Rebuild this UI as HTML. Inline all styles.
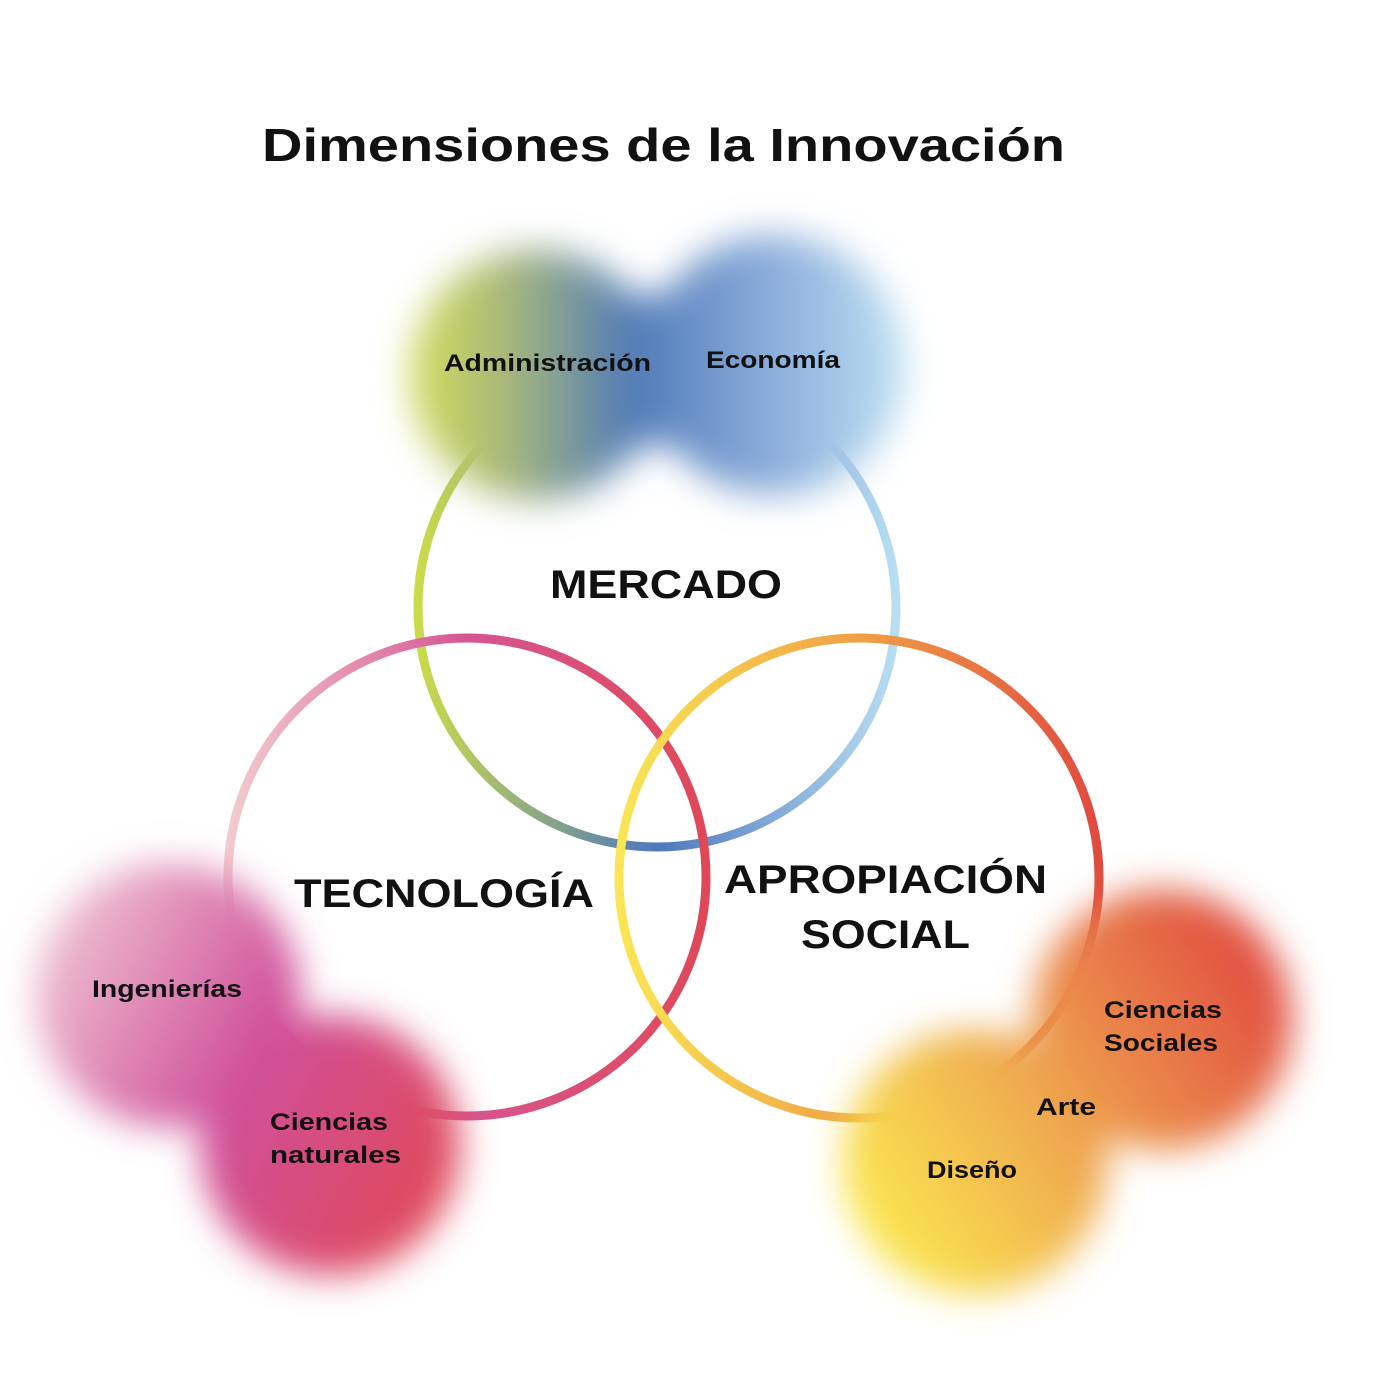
<!DOCTYPE html>
<html><head><meta charset="utf-8"><style>
html,body{margin:0;padding:0;background:#fff;}
svg{display:block;}
text{font-family:"Liberation Sans",sans-serif;font-weight:bold;fill:#111;}
</style></head><body>
<svg width="1390" height="1378" viewBox="0 0 1390 1378" xmlns="http://www.w3.org/2000/svg">
<defs>
<filter id="blur" x="-50%" y="-50%" width="200%" height="200%"><feGaussianBlur stdDeviation="18"/></filter>
<linearGradient id="gTop" gradientUnits="userSpaceOnUse" x1="405" y1="0" x2="910" y2="0">
<stop offset="0" stop-color="#d4df58"/><stop offset="0.2" stop-color="#a8b87a"/><stop offset="0.45" stop-color="#4f7ab8"/><stop offset="0.7" stop-color="#86a8d8"/><stop offset="1" stop-color="#c0e2f4"/></linearGradient>
<linearGradient id="gBL" gradientUnits="userSpaceOnUse" x1="40" y1="950" x2="460" y2="1180">
<stop offset="0" stop-color="#eec0d0"/><stop offset="0.5" stop-color="#d0509a"/><stop offset="1" stop-color="#e04a58"/></linearGradient>
<linearGradient id="gBR" gradientUnits="userSpaceOnUse" x1="850" y1="1220" x2="1270" y2="950">
<stop offset="0" stop-color="#fbea50"/><stop offset="0.4" stop-color="#f0b050"/><stop offset="0.7" stop-color="#e87c48"/><stop offset="1" stop-color="#e04a40"/></linearGradient>
<linearGradient id="cM" x1="0" y1="0" x2="1" y2="0">
<stop offset="0" stop-color="#cbdb4a"/><stop offset="0.5" stop-color="#4f78bd"/><stop offset="1" stop-color="#b8def2"/></linearGradient>
<linearGradient id="cT" x1="0" y1="0" x2="1" y2="0">
<stop offset="0" stop-color="#f2ccd0"/><stop offset="0.5" stop-color="#d65592"/><stop offset="1" stop-color="#e04858"/></linearGradient>
<linearGradient id="cA" x1="0" y1="0" x2="1" y2="0">
<stop offset="0" stop-color="#f9e654"/><stop offset="0.5" stop-color="#efa045"/><stop offset="1" stop-color="#e04a40"/></linearGradient>
</defs>
<circle cx="657" cy="608" r="239" fill="none" stroke="url(#cM)" stroke-width="9"/>
<circle cx="467" cy="877" r="239" fill="none" stroke="url(#cT)" stroke-width="9"/>
<circle cx="859" cy="878" r="240" fill="none" stroke="url(#cA)" stroke-width="9"/>
<g filter="url(#blur)" fill="url(#gTop)">
<circle cx="535" cy="375" r="125"/><circle cx="775" cy="365" r="130"/><rect x="560" y="295" width="220" height="150"/>
</g>
<g filter="url(#blur)" fill="url(#gBL)">
<circle cx="168" cy="995" r="132"/><circle cx="330" cy="1145" r="130"/>
</g>
<g filter="url(#blur)" fill="url(#gBR)">
<circle cx="1162" cy="1020" r="130"/><circle cx="975" cy="1162" r="132"/>
</g>
<text x="262" y="161" font-size="46" textLength="803" lengthAdjust="spacingAndGlyphs">Dimensiones de la Innovación</text>
<text x="550" y="598" font-size="40" textLength="232" lengthAdjust="spacingAndGlyphs">MERCADO</text>
<text x="294" y="907" font-size="40" textLength="300" lengthAdjust="spacingAndGlyphs">TECNOLOGÍA</text>
<text x="724" y="893" font-size="40" textLength="323" lengthAdjust="spacingAndGlyphs">APROPIACIÓN</text>
<text x="801" y="948" font-size="40" textLength="169" lengthAdjust="spacingAndGlyphs">SOCIAL</text>
<g font-size="24">
<text x="444" y="371" textLength="207" lengthAdjust="spacingAndGlyphs">Administración</text>
<text x="706" y="368" textLength="134" lengthAdjust="spacingAndGlyphs">Economía</text>
<text x="92" y="997" textLength="150" lengthAdjust="spacingAndGlyphs">Ingenierías</text>
<text x="270" y="1130" textLength="118" lengthAdjust="spacingAndGlyphs">Ciencias</text>
<text x="270" y="1163" textLength="131" lengthAdjust="spacingAndGlyphs">naturales</text>
<text x="1104" y="1018" textLength="118" lengthAdjust="spacingAndGlyphs">Ciencias</text>
<text x="1104" y="1051" textLength="114" lengthAdjust="spacingAndGlyphs">Sociales</text>
<text x="1036" y="1115" textLength="60" lengthAdjust="spacingAndGlyphs">Arte</text>
<text x="927" y="1178" textLength="90" lengthAdjust="spacingAndGlyphs">Diseño</text>
</g>
</svg>
</body></html>
